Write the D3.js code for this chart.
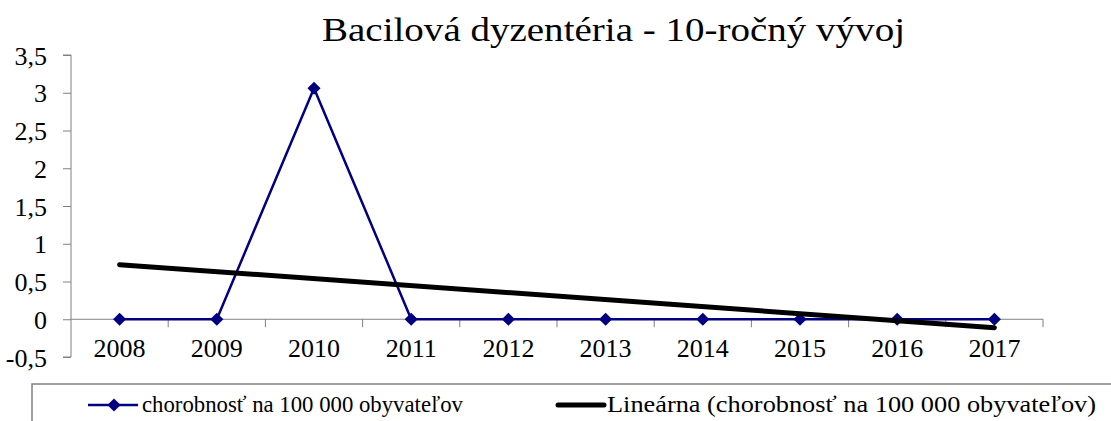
<!DOCTYPE html>
<html>
<head>
<meta charset="utf-8">
<script src="https://cdn.jsdelivr.net/npm/d3@7"></script>
<style>
  body { margin: 0; background: #fff; }
  text { font-family: "Liberation Serif", "Times New Roman", serif; fill: #000; }
</style>
</head>
<body>
<svg id="chart" width="1111" height="421"></svg>
<script>
// data
var years = ["2008", "2009", "2010", "2011", "2012", "2013", "2014", "2015", "2016", "2017"];
var values = [0, 0, 3.06, 0, 0, 0, 0, 0, 0, 0];
var yTicks = [-0.5, 0, 0.5, 1, 1.5, 2, 2.5, 3, 3.5];
var seriesName = "chorobnosť na 100 000 obyvateľov";
var trendName = "Lineárna (chorobnosť na 100 000 obyvateľov)";

var svg = d3.select("#chart");
var plotLeft = 71, plotRight = 1043, plotTop = 55, plotBottom = 357;

var x = d3.scaleBand().domain(years).range([plotLeft, plotRight]);
var y = d3.scaleLinear().domain([-0.5, 3.5]).range([plotBottom, plotTop]);

// least squares trend over the category index
function linearFit(vals) {
  var mx = d3.mean(vals, function(d, i) { return i; });
  var my = d3.mean(vals);
  var sxy = 0, sxx = 0;
  vals.forEach(function(v, i) { sxy += (i - mx) * (v - my); sxx += (i - mx) * (i - mx); });
  var b = sxy / sxx;
  return function(i) { return my + b * (i - mx); };
}
var fit = linearFit(values);

// title
svg.append("text")
   .attr("x", 322).attr("y", 41)
   .attr("textLength", 583)
   .attr("lengthAdjust", "spacingAndGlyphs")
   .style("font-size", "34px")
   .text("Bacilová dyzentéria - 10-ročný vývoj");

// y axis
var yAxis = d3.axisLeft(y).tickValues(yTicks).tickSize(8)
   .tickFormat(function(d) { return String(d).replace(".", ","); });
var gy = svg.append("g").attr("transform", "translate(" + plotLeft + ",0)").call(yAxis);
gy.select(".domain").attr("stroke", "#808080").attr("d", "M-8," + plotTop + "H0V" + plotBottom + "H-8");
gy.selectAll(".tick line").attr("stroke", "#808080");
gy.selectAll(".tick text").style("font-size", "26px").attr("x", -24).attr("dy", "0.35em");

// x axis at zero, ticks between categories
var gx = svg.append("g").attr("transform", "translate(0," + y(0) + ")");
gx.append("line").attr("x1", plotLeft).attr("x2", plotRight).attr("stroke", "#808080");
gx.selectAll(".sep")
  .data(years)
  .enter().append("line")
  .attr("x1", function(d) { return x(d) + x.bandwidth(); })
  .attr("x2", function(d) { return x(d) + x.bandwidth(); })
  .attr("y1", 0).attr("y2", 8)
  .attr("stroke", "#808080");
gx.selectAll(".lbl")
  .data(years)
  .enter().append("text")
  .attr("x", function(d) { return x(d) + x.bandwidth() / 2; })
  .attr("y", 38)
  .attr("text-anchor", "middle")
  .style("font-size", "26px")
  .text(function(d) { return d; });

// series line
var line = d3.line()
  .x(function(d, i) { return x(years[i]) + x.bandwidth() / 2; })
  .y(function(d) { return y(d); });

svg.append("path")
   .datum(values)
   .attr("d", line)
   .attr("fill", "none")
   .attr("stroke", "#000080")
   .attr("stroke-width", 2.5);

var diamond = d3.symbol().type(d3.symbolDiamond2).size(110);
svg.selectAll(".pt")
   .data(values)
   .enter().append("path")
   .attr("d", diamond)
   .attr("transform", function(d, i) { return "translate(" + (x(years[i]) + x.bandwidth() / 2) + "," + y(d) + ")"; })
   .attr("fill", "#000080");

// trend line
var ends = [0, years.length - 1];
svg.append("path")
   .datum(ends)
   .attr("d", d3.line()
      .x(function(i) { return x(years[i]) + x.bandwidth() / 2; })
      .y(function(i) { return y(fit(i)); }))
   .attr("stroke", "#000")
   .attr("stroke-width", 5)
   .attr("stroke-linecap", "round");

// legend
svg.append("path")
   .attr("d", "M32,421V384H1111")
   .attr("fill", "none")
   .attr("stroke", "#808080")
   .attr("stroke-width", 1.5);

var lg = svg.append("g").attr("transform", "translate(0,412)");
lg.append("line").attr("x1", 88).attr("x2", 138).attr("y1", -7).attr("y2", -7)
  .attr("stroke", "#000080").attr("stroke-width", 2.5);
lg.append("path").attr("d", diamond).attr("transform", "translate(114,-7)").attr("fill", "#000080");
lg.append("text").attr("x", 142).attr("y", 0).style("font-size", "23px")
  .attr("textLength", 321).attr("lengthAdjust", "spacingAndGlyphs").text(seriesName);

lg.append("line").attr("x1", 558).attr("x2", 604).attr("y1", -7).attr("y2", -7)
  .attr("stroke", "#000").attr("stroke-width", 5).attr("stroke-linecap", "round");
lg.append("text").attr("x", 607).attr("y", 0).style("font-size", "23px")
  .attr("textLength", 489).attr("lengthAdjust", "spacingAndGlyphs").text(trendName);
</script>
</body>
</html>
